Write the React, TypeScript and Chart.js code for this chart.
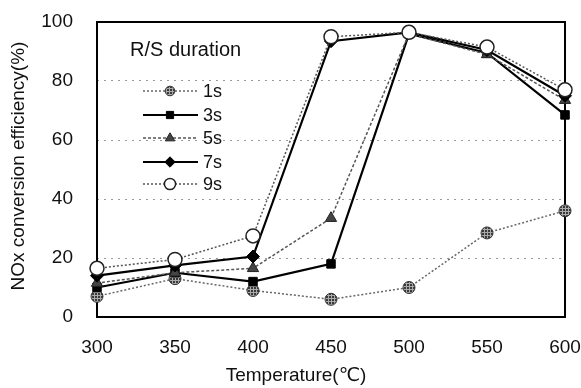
import React, { useEffect, useRef } from 'react';
import { Chart, registerables } from 'chart.js';
Chart.register(...registerables);

const temperatures = ['300', '350', '400', '450', '500', '550', '600'];
const series1s = [7, 13, 9, 6, 10, 28.5, 36];
const series3s = [10, 15, 12, 18, 96, 89.5, 68.5];
const series5s = [11.5, 15, 16.5, 33.5, 96, 89, 73.5];
const series7s = [14, 17.5, 20.5, 93.5, 96.5, 90.5, 75];
const series9s = [16.5, 19.5, 27.5, 95, 96.5, 91.5, 77];
const seriesLabels = ['1s', '3s', '5s', '7s', '9s'];
const legendTitle = 'R/S duration';
const xTitle = 'Temperature(℃)';
const yTitle = 'NOx conversion efficiency(%)';

const FONT = '"Liberation Sans", Arial, "DejaVu Sans", sans-serif';

function makePattern(): CanvasPattern | string {
  const c = document.createElement('canvas');
  c.width = 3;
  c.height = 3;
  const g = c.getContext('2d');
  if (!g) return '#555';
  g.fillStyle = '#3a3a3a';
  g.fillRect(0, 0, 3, 3);
  g.fillStyle = '#aaaaaa';
  g.fillRect(0, 1, 3, 1);
  g.fillRect(1, 0, 1, 3);
  const p = g.createPattern(c, 'repeat');
  return p || '#555';
}

function drawMarker(ctx: CanvasRenderingContext2D, style: string, x: number, y: number, r: number, fill: any, stroke: string, lw: number) {
  ctx.save();
  ctx.beginPath();
  if (style === 'circle') ctx.arc(x, y, r, 0, Math.PI * 2);
  else if (style === 'rect') ctx.rect(x - r * 0.75, y - r * 0.75, r * 1.5, r * 1.5);
  else if (style === 'triangle') {
    ctx.moveTo(x, y - r);
    ctx.lineTo(x + r * 0.9, y + r * 0.55);
    ctx.lineTo(x - r * 0.9, y + r * 0.55);
    ctx.closePath();
  } else if (style === 'rectRot') {
    ctx.moveTo(x, y - r);
    ctx.lineTo(x + r, y);
    ctx.lineTo(x, y + r);
    ctx.lineTo(x - r, y);
    ctx.closePath();
  }
  ctx.fillStyle = fill;
  ctx.fill();
  ctx.setLineDash([]);
  ctx.lineWidth = lw;
  ctx.strokeStyle = stroke;
  ctx.stroke();
  ctx.restore();
}

export default function App() {
  const ref = useRef<HTMLCanvasElement>(null);
  useEffect(() => {
    document.body.style.margin = '0';
    const pattern = makePattern();
    const styles = [
      { color: '#666', width: 1.5, dash: [2, 2], point: 'circle', radius: 6, fill: pattern, pborder: '#333', pbw: 1 },
      { color: '#000', width: 2.2, dash: [], point: 'rect', radius: 6, fill: '#000', pborder: '#000', pbw: 1 },
      { color: '#555', width: 1.5, dash: [3, 2], point: 'triangle', radius: 6.5, fill: '#444', pborder: '#222', pbw: 1 },
      { color: '#000', width: 2.2, dash: [], point: 'rectRot', radius: 6.5, fill: '#000', pborder: '#000', pbw: 1 },
      { color: '#555', width: 1.5, dash: [2, 2], point: 'circle', radius: 7, fill: '#fff', pborder: '#222', pbw: 1.5 },
    ];
    const allSeries = [series1s, series3s, series5s, series7s, series9s];

    const framePlugin = {
      id: 'frame',
      beforeDatasetsDraw(chart: any) {
        const { ctx, chartArea: a } = chart;
        ctx.save();
        ctx.strokeStyle = '#000';
        ctx.lineWidth = 2;
        ctx.setLineDash([]);
        ctx.strokeRect(a.left, a.top, a.right - a.left, a.bottom - a.top);
        ctx.restore();
      },
      afterDraw(chart: any) {
        const { ctx } = chart;
        ctx.save();
        ctx.fillStyle = '#111';
        // axis titles
        ctx.font = `19px ${FONT}`;
        ctx.textAlign = 'center';
        ctx.textBaseline = 'middle';
        ctx.fillText(xTitle, 296, 376);
        ctx.save();
        ctx.translate(19, 166);
        ctx.rotate(-Math.PI / 2);
        ctx.fillText(yTitle, 0, 0);
        ctx.restore();
        // legend
        ctx.textAlign = 'left';
        ctx.font = `20px ${FONT}`;
        ctx.fillText(legendTitle, 130, 50);
        const rows = [91, 115, 138, 162, 184];
        ctx.font = `18px ${FONT}`;
        styles.forEach((s, i) => {
          const y = rows[i];
          ctx.save();
          ctx.strokeStyle = s.color;
          ctx.lineWidth = s.width;
          ctx.setLineDash(s.dash);
          ctx.beginPath();
          ctx.moveTo(143, y);
          ctx.lineTo(198, y);
          ctx.stroke();
          ctx.restore();
          drawMarker(ctx, s.point, 170, y, s.radius * 0.8, s.fill, s.pborder, s.pbw);
          ctx.fillStyle = '#111';
          ctx.fillText(seriesLabels[i], 203, y + 1);
        });
        ctx.restore();
      },
    };

    const chart = new Chart(ref.current as HTMLCanvasElement, {
      type: 'line',
      data: {
        labels: temperatures,
        datasets: allSeries.map((d, i) => ({
          label: seriesLabels[i],
          data: d,
          order: 4 - i,
          borderColor: styles[i].color,
          borderWidth: styles[i].width,
          borderDash: styles[i].dash,
          pointStyle: styles[i].point as any,
          pointRadius: styles[i].radius,
          pointBackgroundColor: styles[i].fill as any,
          pointBorderColor: styles[i].pborder,
          pointBorderWidth: styles[i].pbw,
          fill: false,
          tension: 0,
        })),
      },
      options: {
        responsive: false,
        animation: false,
        layout: { padding: { top: 22, right: 16, left: 0, bottom: 0 } },
        plugins: { legend: { display: false }, tooltip: { enabled: false } },
        scales: {
          x: {
            offset: false,
            grid: { display: false, drawTicks: false },
            border: { display: false },
            ticks: { color: '#111', font: { size: 19, family: FONT }, padding: 19, maxRotation: 0, autoSkip: false },
            afterFit: (s: any) => { s.height = 71; s.paddingLeft = 0; s.paddingRight = 0; },
          },
          y: {
            min: 0,
            max: 100,
            grid: {
              drawTicks: false,
              color: (c: any) => (c.tick && (c.tick.value === 0 || c.tick.value === 100) ? 'rgba(0,0,0,0)' : '#999'),
              lineWidth: 1,
            },
            border: { display: false, dash: [2, 5] },
            ticks: { stepSize: 20, color: '#111', font: { size: 19, family: FONT }, padding: 24 },
            afterFit: (s: any) => { s.width = 97; s.paddingTop = 0; s.paddingBottom = 0; },
          },
        },
      },
      plugins: [framePlugin],
    });
    return () => chart.destroy();
  }, []);
  return <canvas ref={ref} width={581} height={388} style={{ display: 'block' }} />;
}
